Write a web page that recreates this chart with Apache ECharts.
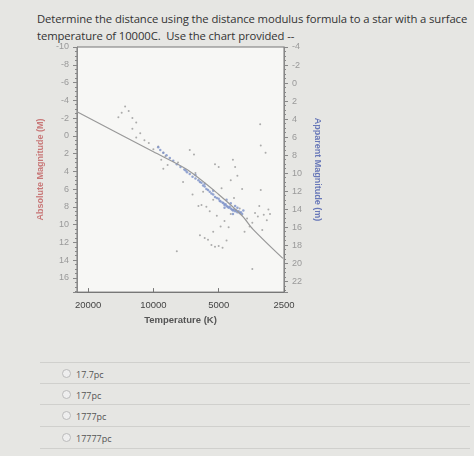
<!DOCTYPE html>
<html>
<head>
<meta charset="utf-8">
<script src="https://cdn.jsdelivr.net/npm/echarts@6/dist/echarts.min.js"></script>
<style>
  body { margin: 0; width: 474px; height: 456px; background: #e6e6e3; font-family: "Open Sans", sans-serif; overflow: hidden; position: relative; }
  #q { position: absolute; left: 37px; top: 10px; font-size: 11.3px; line-height: 17px; color: #333; width: 436px; letter-spacing: -0.1px; }
  #main { position: absolute; left: 25px; top: 40px; width: 310px; height: 290px; }
  .opt { position: absolute; left: 40px; width: 430px; height: 21px; border-top: 1px solid #d0d0cd; font-size: 9px; color: #555; }
  .opt span.r { display: inline-block; width: 7px; height: 7px; border: 1px solid #bbb; border-radius: 50%; margin: 6px 5px 0 22px; vertical-align: top; background: #eee; }
  .opt span.t { display: inline-block; margin-top: 5px; }
</style>
</head>
<body>
<div id="q">Determine the distance using the distance modulus formula to a star with a surface temperature of 10000C.&nbsp; Use the chart provided --</div>
<div id="main"></div>
<div class="opt" style="top:362px"><span class="r"></span><span class="t">17.7pc</span></div>
<div class="opt" style="top:383px"><span class="r"></span><span class="t">177pc</span></div>
<div class="opt" style="top:404px"><span class="r"></span><span class="t">1777pc</span></div>
<div class="opt" style="top:426px"><span class="r"></span><span class="t">17777pc</span></div>
<div class="opt" style="top:448px"></div>
<script>
// temperatures in K, absolute magnitude M
var lineT = [22500, 10000, 7000, 5000, 3900, 3480, 2530];
var lineM = [-2.7, 1.8, 3.8, 6.6, 9.0, 10.5, 13.8];

var greyT = [13500, 14000, 14500, 13000, 12500, 12000, 12500, 11500, 11000, 12000, 10500, 10000, 9500, 9000, 8800, 9200, 8600, 9000,
  6800, 6500, 5200, 5000, 4300, 4200, 4100, 4400, 3220, 3200, 3040, 3200,
  6100, 5800, 5600, 5400, 5200, 5000, 4800, 4600, 5300, 4900, 7800, 3500,
  5500, 5100, 4700, 4500, 6000, 5700, 4400, 4000, 3700, 3500, 3400, 3300, 3100, 3000, 2900, 3600, 3800, 3250, 2950, 3150,
  7300, 6600, 6200, 5900, 5300, 4850, 4250, 3900, 7700, 6400];
var greyM = [-3.3, -2.6, -2.1, -2.8, -2.0, -1.5, -0.8, -0.3, 0.5, 0.2, 0.8, 1.5, 1.2, 1.9, 2.3, 2.7, 3.3, 3.7,
  1.6, 2.1, 3.2, 3.5, 2.7, 3.5, 4.5, 5.0, -1.3, 1.1, 1.9, 6.1,
  11.2, 11.5, 11.7, 12.3, 12.5, 12.4, 12.6, 11.8, 10.8, 10.2, 13.0, 15.0,
  8.5, 9.0, 9.6, 10.3, 7.8, 8.0, 8.8, 8.2, 9.3, 9.8, 8.7, 9.1, 8.9, 9.5, 8.8, 10.2, 10.8, 7.9, 8.3, 10.6,
  5.2, 6.6, 7.9, 6.3, 7.2, 5.9, 7.0, 6.0, 3.0, 4.2];

var blueT = [9500, 9300, 9000, 8700, 8400, 8100, 7800, 7500, 7200, 7000, 6800, 6600, 6400, 6200, 6100, 6000, 5900, 5800, 5700, 5600,
  5500, 5400, 5300, 5200, 5100, 5000, 4950, 4900, 4800, 4750, 4700, 4650, 4600, 4550, 4500, 4450, 4400, 4350, 4300, 4250,
  4200, 4150, 4100, 4050, 4000, 3950, 3900, 4600, 4400, 4200, 5300, 5800, 6400, 7100, 4700, 4300, 4100, 3850];
var blueM = [1.3, 1.6, 1.9, 2.2, 2.5, 2.8, 3.2, 3.5, 3.8, 4.1, 4.3, 4.6, 4.8, 5.0, 5.2, 5.3, 5.6, 5.7, 6.0, 6.1,
  6.3, 6.5, 6.6, 6.9, 7.0, 7.1, 7.3, 7.4, 7.5, 7.6, 7.8, 7.7, 7.9, 8.0, 8.1, 8.0, 8.2, 8.3, 8.4, 8.3,
  8.5, 8.4, 8.6, 8.5, 8.7, 8.6, 8.8, 7.2, 7.6, 7.9, 6.2, 5.4, 4.4, 3.9, 8.1, 8.8, 8.1, 8.4];

var xLabels = [2500, 5000, 10000, 20000];

function lx(t) { return Math.log2(t / 2500); }
function pts(T, M) { return T.map(function (t, i) { return [lx(t), M[i]]; }); }

var chart = echarts.init(document.getElementById('main'));
chart.setOption({
  animation: false,
  grid: { left: 52, right: 51, top: 7, bottom: 33, show: true, backgroundColor: '#f7f7f5', borderColor: '#777', borderWidth: 1 },
  xAxis: {
    type: 'value', inverse: true, min: 0, max: lx(22500), interval: 1,
    axisLine: { onZero: false, lineStyle: { color: '#777' } }, splitLine: { show: false },
    axisTick: { inside: true, length: 4 },
    axisLabel: { color: '#444', fontSize: 9.5, showMinLabel: true, showMaxLabel: false,
      formatter: function (v) { var k = Math.round(v); return Math.abs(v - k) < 1e-6 && xLabels[k] ? xLabels[k] : ''; } },
    name: 'Temperature (K)', nameLocation: 'middle', nameGap: 17,
    nameTextStyle: { color: '#555', fontSize: 9.5, fontWeight: 'bold' }
  },
  yAxis: [{
    type: 'value', inverse: true, min: -10, max: 17.6, interval: 2,
    axisLine: { show: true, onZero: false, lineStyle: { color: '#888' } }, splitLine: { show: false },
    axisTick: { length: 4 }, minorTick: { show: true, splitNumber: 4, length: 2 },
    axisLabel: { color: '#999', fontSize: 9, showMaxLabel: false },
    name: 'Absolute Magnitude (M)', nameLocation: 'middle', nameGap: 24,
    nameTextStyle: { color: '#c87878', fontSize: 9, fontWeight: 'bold' }
  }, {
    type: 'value', inverse: true, min: -4, max: 23.2, interval: 2,
    axisLine: { show: true, onZero: false, lineStyle: { color: '#888' } }, splitLine: { show: false },
    axisTick: { length: 4 }, minorTick: { show: true, splitNumber: 4, length: 2 },
    axisLabel: { color: '#999', fontSize: 9, showMaxLabel: false, formatter: function (v) { return v < 23 ? v : ''; } },
    name: 'Apparent Magnitude (m)', nameLocation: 'middle', nameGap: 26, nameRotate: -90,
    nameTextStyle: { color: '#6878b8', fontSize: 9, fontWeight: 'bold' }
  }],
  series: [
    { type: 'line', data: pts(lineT, lineM), symbol: 'none', smooth: 0.3, lineStyle: { color: '#999', width: 1.2 } },
    { type: 'scatter', data: pts(greyT, greyM), symbolSize: 2, itemStyle: { color: '#999' } },
    { type: 'scatter', data: pts(blueT, blueM), symbolSize: 2.5, itemStyle: { color: '#7a90c8' } }
  ]
});
</script>
</body>
</html>
